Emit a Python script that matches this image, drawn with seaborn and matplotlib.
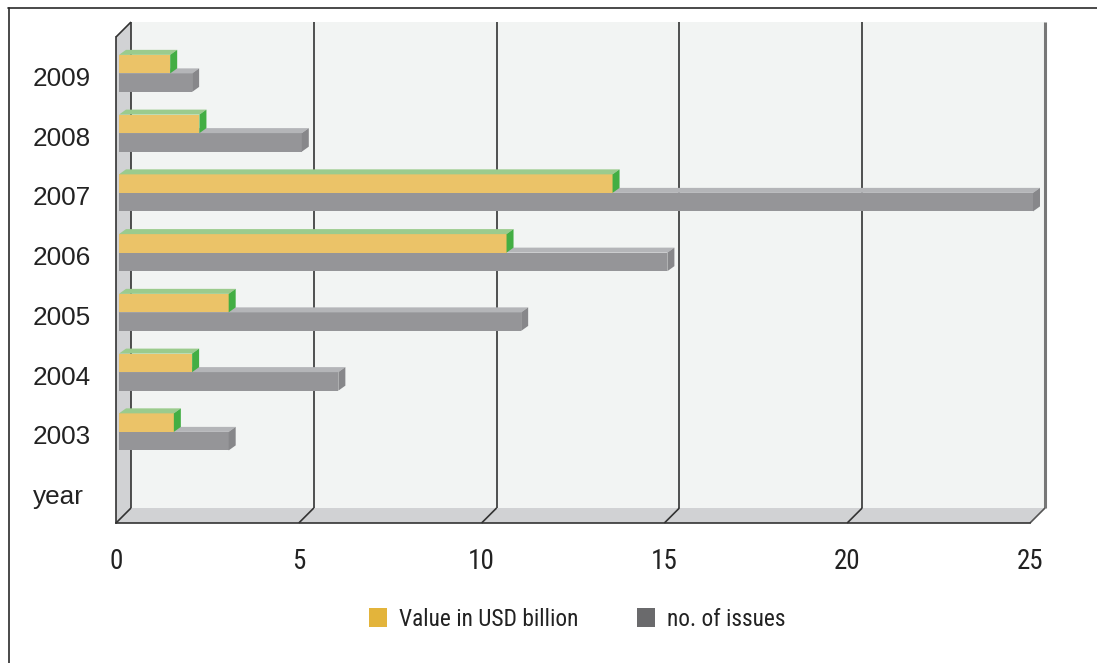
import matplotlib
matplotlib.use("Agg")
import matplotlib.pyplot as plt
from matplotlib import font_manager
from matplotlib.patches import Polygon, Patch, Rectangle
from matplotlib.lines import Line2D
from matplotlib.transforms import ScaledTranslation, blended_transform_factory
import pandas as pd
import seaborn as sns

# ---- data ----
years = ["2003", "2004", "2005", "2006", "2007", "2008", "2009"]
value_usd_bn = [1.5, 2.0, 3.0, 10.6, 13.5, 2.2, 1.4]
num_issues = [3, 6, 11, 15, 25, 5, 2]
series_names = ["Value in USD billion", "no. of issues"]
category_order = ["2009", "2008", "2007", "2006", "2005", "2004", "2003", "year"]
x_ticks = [0, 5, 10, 15, 20, 25]

df = pd.DataFrame({
    "year": years * 2,
    "series": [series_names[0]] * len(years) + [series_names[1]] * len(years),
    "value": value_usd_bn + num_issues,
})


# ---- fonts: prefer a narrow / condensed face for the axis and legend text ----
def pick_condensed():
    entries = font_manager.fontManager.ttflist
    prefs = ["Liberation Sans Narrow", "Roboto Condensed", "Open Sans Condensed",
             "Noto Sans", "DejaVu Sans", "Roboto", "Open Sans", "Inter"]
    for fam in prefs:
        for e in entries:
            if e.name == fam and e.weight in (400, "normal", "regular") and e.style == "normal":
                fname = e.fname.lower()
                if fam.endswith(("Narrow", "Condensed")) and "bold" not in fname:
                    return font_manager.FontProperties(fname=e.fname)
                if ("condensed" in fname or "narrow" in fname or
                        e.stretch in ("condensed", "semi-condensed", "extra-condensed")) \
                        and "bold" not in fname and "italic" not in fname \
                        and "oblique" not in fname and "light" not in fname \
                        and "medium" not in fname and "semibold" not in fname \
                        and "black" not in fname and "thin" not in fname:
                    return font_manager.FontProperties(fname=e.fname)
    return font_manager.FontProperties(family="DejaVu Sans", stretch="condensed")


sns.set_style("white")
plt.rcParams["font.family"] = ["DejaVu Sans"]
COND = pick_condensed()

FRONT = {"Value in USD billion": "#EBC368", "no. of issues": "#959598"}
TOP = {"Value in USD billion": "#9BCB8D", "no. of issues": "#B4B5B8"}
SIDE = {"Value in USD billion": "#43AE43", "no. of issues": "#87878A"}
LEGEND = {"Value in USD billion": "#E3B43B", "no. of issues": "#6A6A6C"}
WALL = "#D1D2D4"
BACK = "#F2F4F3"
INK = "#333333"

W, H = 1097, 663
fig = plt.figure(figsize=(W / 100, H / 100), dpi=100)
fig.patch.set_facecolor("white")

# front plane of the 3-D plot box (pixels, top-left origin)
L, R, T, B = 116, 1030, 37, 523
DX, DY = 15, 15          # depth of the box
BDX, BDY = 7, 5          # depth of each bar
SHIFT = (3, 1.5)         # bars sit a little inside the box

ax = fig.add_axes([L / W, (H - B) / H, (R - L) / W, (B - T) / H])
ax.patch.set_visible(False)

sns.barplot(data=df, x="value", y="year", hue="series", order=category_order,
            hue_order=series_names, palette=FRONT, orient="h", width=0.62,
            saturation=1, linewidth=0, legend=False, ax=ax)
bars = [p for p in ax.patches if isinstance(p, Rectangle)]

ax.set_xlim(0, 25)
ax.set_ylim(7.5, -0.5 - 8 / 59.75)
ax.set_xlabel("")
ax.set_ylabel("")


def disp(px, py):
    """figure pixel (top-left origin) -> display coords"""
    return (px, H - py)


def to_data(pts_disp):
    inv = ax.transData.inverted()
    return [tuple(inv.transform(p)) for p in pts_disp]


def poly(pts_px, color, z):
    ax.add_patch(Polygon(to_data([disp(*p) for p in pts_px]), closed=True,
                         facecolor=color, edgecolor="none", zorder=z,
                         clip_on=False))


def line(pts_px, color=INK, lw=1.2, z=1):
    d = to_data([disp(*p) for p in pts_px])
    ax.add_line(Line2D([p[0] for p in d], [p[1] for p in d], color=color,
                       lw=lw, zorder=z, clip_on=False, solid_capstyle="butt"))


# walls and floor
poly([(L + DX, T - DY), (R + DX, T - DY), (R + DX, B - DY), (L + DX, B - DY)], BACK, 0.1)
poly([(L, T), (L + DX, T - DY), (L + DX, B - DY), (L, B)], WALL, 0.2)
poly([(L, B), (L + DX, B - DY), (R + DX, B - DY), (R, B)], WALL, 0.2)

# gridlines on back wall and floor
for v in x_ticks:
    xd = ax.transData.transform((v, 0))[0]
    if v == x_ticks[-1]:
        line([(xd + DX, B - DY), (xd + DX, T - DY)], color="#777777", lw=2.2, z=0.3)
        line([(xd, B), (xd + DX, B - DY)], color="#555555", lw=1.2, z=0.3)
    else:
        line([(xd + DX, B - DY), (xd + DX, T - DY)], lw=1.2, z=0.3)
        line([(xd, B), (xd + DX, B - DY)], lw=1.2, z=0.3)
line([(L, T), (L + DX, T - DY)], lw=1.2, z=0.3)

# 3-D faces for each bar
offset = ScaledTranslation(SHIFT[0] / 100, SHIFT[1] / 100, fig.dpi_scale_trans)
for p in bars:
    if p.get_width() == 0:
        continue
    fc = matplotlib.colors.to_hex(p.get_facecolor())
    name = [k for k, c in FRONT.items() if c.lower() == fc.lower()]
    if not name:
        continue
    name = name[0]
    z = 2 if name == series_names[1] else 3
    x0, y0 = p.get_x(), p.get_y()
    x1, y1 = x0 + p.get_width(), y0 + p.get_height()
    (dx0, dy_a) = ax.transData.transform((x0, y0))
    (dx1, dy_b) = ax.transData.transform((x1, y1))
    top = max(dy_a, dy_b) + SHIFT[1]
    bot = min(dy_a, dy_b) + SHIFT[1]
    dx0 += SHIFT[0]
    dx1 += SHIFT[0]
    p.set_transform(ax.transData + offset)
    p.set_zorder(z)
    p.set_clip_on(False)
    top_face = [(dx0, top), (dx1, top), (dx1 + BDX, top + BDY), (dx0 + BDX, top + BDY)]
    side_face = [(dx1, bot), (dx1, top), (dx1 + BDX, top + BDY), (dx1 + BDX, bot + BDY)]
    for pts, col in ((top_face, TOP[name]), (side_face, SIDE[name])):
        ax.add_patch(Polygon(to_data(pts), closed=True, facecolor=col,
                             edgecolor="none", zorder=z + 0.1, clip_on=False))

# axes, spines and ticks
for s in ["top", "right"]:
    ax.spines[s].set_visible(False)
for s in ["left", "bottom"]:
    ax.spines[s].set_color(INK)
    ax.spines[s].set_linewidth(1.2)
    ax.spines[s].set_zorder(0.4)

ax.set_xticks(x_ticks)
ax.set_xticklabels([str(v) for v in x_ticks])
ax.tick_params(axis="x", direction="out", length=7.2, width=1.2, color=INK,
               pad=11, labelcolor="#222222")
for lab in ax.get_xticklabels():
    lab.set_fontproperties(COND)
    lab.set_fontsize(19.5)

# category axis: ticks between categories, labels left-aligned in a column
ax.set_yticks(range(len(category_order)))
ax.set_yticklabels([])
ax.set_yticks([i - 0.5 for i in range(len(category_order) + 1)], minor=True)
ax.tick_params(axis="y", which="minor", direction="out", length=6.5, width=1.2, color=INK)
ax.tick_params(axis="y", which="major", length=0)
label_tf = blended_transform_factory(ax.transAxes, ax.transData) + \
    ScaledTranslation(0, -4 / 100, fig.dpi_scale_trans)
for i, cat in enumerate(category_order):
    ax.text((33 - L) / (R - L), i, cat, transform=label_tf, ha="left", va="center",
            fontsize=18.8, family=["Liberation Sans", "DejaVu Sans"], color="#222222")

# legend
handles = [Patch(facecolor=LEGEND[n], edgecolor="none", label=n) for n in series_names]
leg_font = COND.copy()
leg_font.set_size(16.8)
fig.legend(handles=handles, loc="center", bbox_to_anchor=(577 / W, 1 - 619 / H),
           ncol=2, frameon=False, prop=leg_font, handlelength=0.8, handleheight=0.9,
           handletextpad=0.5, columnspacing=2.5, labelcolor="#222222")

# outer frame (top and left rules)
fig.add_artist(Line2D([8 / W, 1], [1 - 8 / H, 1 - 8 / H], transform=fig.transFigure,
                      color="#2a2a2a", lw=1.2))
fig.add_artist(Line2D([9 / W, 9 / W], [0, 1 - 8 / H], transform=fig.transFigure,
                      color="#2a2a2a", lw=1.2))

fig.savefig("out.png", dpi=100)
